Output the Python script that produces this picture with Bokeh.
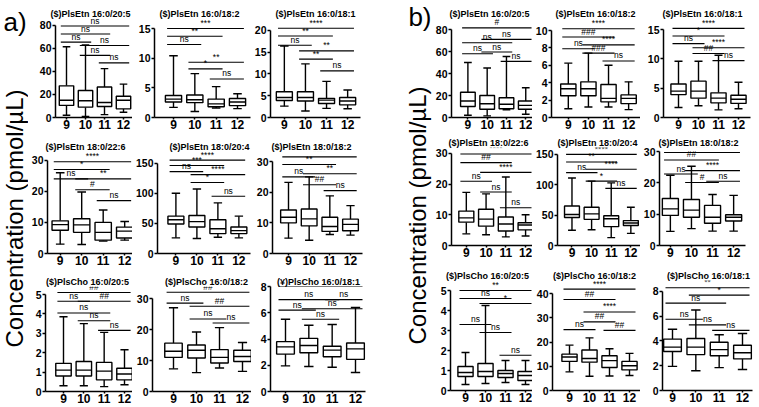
from math import pi

from bokeh.plotting import figure
from bokeh.layouts import row, column
from bokeh.models import Range1d, FixedTicker, Label, ColumnDataSource
from bokeh.core.properties import value
from bokeh.embed import file_html
from bokeh.resources import INLINE

FONT = "Liberation Sans"
GROUPS = [9, 10, 11, 12]
YLABEL = "Concentration (pmol/µL)"

# ---------------------------------------------------------------- panel a
a1_title = "($)PlsEtn 16:0/20:5"
a1_yticks = [0, 20, 40, 60, 80]
a1_lo = [2, 1, 2.5, 4.5]
a1_q1 = [10.5, 9, 9.5, 7.5]
a1_med = [15, 14.5, 13, 15]
a1_q3 = [27.5, 23.5, 26.5, 18.5]
a1_hi = [61.5, 63, 42.5, 29]
a1_pairs = [(9, 12), (9, 11), (9, 10), (10, 12), (10, 11), (11, 12)]
a1_pair_y = [79.5, 72.5, 65.5, 62.5, 54, 47.5]
a1_pair_txt = ["ns", "ns", "ns", "ns", "ns", "ns"]

a2_title = "($)PlsEtn 16:0/18:2"
a2_yticks = [0, 5, 10, 15]
a2_lo = [1.7, 1.0, 1.6, 1.5]
a2_q1 = [2.6, 2.5, 1.8, 2.0]
a2_med = [3.1, 3.0, 2.3, 2.6]
a2_q3 = [3.7, 3.8, 3.1, 3.2]
a2_hi = [10.4, 7.4, 5.2, 4.0]
a2_pairs = [(9, 12), (9, 11), (9, 10), (10, 12), (10, 11), (11, 12)]
a2_pair_y = [15.0, 13.7, 12.3, 9.3, 8.2, 6.5]
a2_pair_txt = ["***", "**", "ns", "**", "*", "ns"]

a3_title = "($)PlsEtn 16:0/18:1"
a3_yticks = [0, 5, 10, 15, 20]
a3_lo = [2.6, 1.5, 2.1, 2.0]
a3_q1 = [3.9, 3.8, 3.2, 2.9]
a3_med = [4.6, 4.6, 4.0, 3.8]
a3_q3 = [5.9, 5.9, 4.4, 4.6]
a3_hi = [16.4, 12.3, 8.3, 6.3]
a3_pairs = [(9, 12), (9, 11), (9, 10), (10, 12), (10, 11), (11, 12)]
a3_pair_y = [20.5, 18.7, 16.6, 15.3, 13.4, 10.7]
a3_pair_txt = ["****", "**", "ns", "**", "**", "ns"]

a4_title = "($)PlsEtn 18:0/22:6"
a4_yticks = [0, 10, 20, 30]
a4_lo = [3.0, 2.9, 4.0, 4.3]
a4_q1 = [7.5, 6.8, 4.3, 5.0]
a4_med = [9.3, 9.2, 6.8, 7.2]
a4_q3 = [10.5, 11.2, 10.0, 8.5]
a4_hi = [26.0, 19.8, 14.0, 10.3]
a4_pairs = [(9, 12), (9, 11), (9, 10), (10, 12), (10, 11), (11, 12)]
a4_pair_y = [29.5, 27.0, 24.0, 24.0, 20.5, 17.0]
a4_pair_txt = ["****", "*", "ns", "**", "#", "ns"]

a5_title = "($)PlsEtn 18:0/20:4"
a5_yticks = [0, 50, 100, 150]
a5_lo = [26, 25, 27, 26]
a5_q1 = [49, 44, 33, 33]
a5_med = [56, 53, 41, 38]
a5_q3 = [62, 63, 56, 44]
a5_hi = [100, 107, 84, 62]
a5_pairs = [(9, 12), (9, 11), (9, 10), (10, 12), (10, 11), (11, 12)]
a5_pair_y = [155, 146, 136, 131, 118, 95]
a5_pair_txt = ["****", "***", "ns", "****", "*", "ns"]

a6_title = "($)PlsEtn 18:0/18:2"
a6_yticks = [0, 10, 20, 30]
a6_lo = [5.0, 4.3, 6.2, 6.0]
a6_q1 = [10.0, 9.0, 7.2, 7.4]
a6_med = [11.8, 11.3, 8.8, 9.5]
a6_q3 = [14.2, 14.5, 11.8, 11.2]
a6_hi = [23.2, 25.0, 18.8, 15.6]
a6_pairs = [(9, 12), (9, 11), (10, 12), (9, 10), (10, 11), (11, 12)]
a6_pair_y = [31.5, 29.0, 26.0, 25.0, 22.4, 20.5]
a6_pair_txt = ["****", "**", "**", "ns", "##", "ns"]

a7_title = "($)PlsCho 16:0/20:5"
a7_yticks = [0, 1, 2, 3, 4, 5]
a7_lo = [0.3, 0.3, 0.25, 0.35]
a7_q1 = [0.8, 0.8, 0.6, 0.6]
a7_med = [1.1, 1.1, 1.05, 0.9]
a7_q3 = [1.45, 1.55, 1.5, 1.2]
a7_hi = [3.85, 3.5, 3.05, 2.15]
a7_pairs = [(9, 12), (9, 10), (10, 12), (9, 11), (10, 11), (11, 12)]
a7_pair_y = [5.1, 4.65, 4.65, 4.05, 3.65, 3.15]
a7_pair_txt = ["##", "ns", "##", "ns", "ns", "ns"]

a8_title = "($)PlsCho 16:0/18:2"
a8_yticks = [0, 10, 20, 30]
a8_lo = [7.3, 6.1, 7.6, 6.5]
a8_q1 = [11.0, 10.8, 9.2, 9.7]
a8_med = [13.0, 13.3, 11.0, 11.3]
a8_q3 = [15.6, 15.0, 13.5, 13.3]
a8_hi = [27.0, 19.2, 20.6, 15.8]
a8_pairs = [(9, 12), (9, 10), (10, 12), (10, 11), (11, 12)]
a8_pair_y = [32.0, 28.5, 27.5, 23.4, 22.1]
a8_pair_txt = ["##", "ns", "##", "ns", "ns"]

a9_title = "(¥)PlsCho 16:0/18:1"
a9_yticks = [0, 2, 4, 6, 8]
a9_lo = [1.95, 1.9, 1.85, 1.45]
a9_q1 = [2.85, 2.95, 2.65, 2.45]
a9_med = [3.4, 3.5, 3.15, 3.25]
a9_q3 = [3.8, 4.05, 3.45, 3.7]
a9_hi = [5.5, 5.05, 5.1, 6.4]
a9_pairs = [(9, 12), (9, 11), (11, 12), (9, 10), (10, 12), (10, 11)]
a9_pair_y = [8.0, 7.0, 7.0, 6.2, 6.3, 5.5]
a9_pair_txt = ["ns", "ns", "ns", "ns", "ns", "ns"]

# ---------------------------------------------------------------- panel b
b1_title = "($)PlsEtn 16:0/20:5"
b1_yticks = [0, 20, 40, 60, 80]
b1_lo = [2, 1.5, 7, 3]
b1_q1 = [10, 7.5, 8, 7.5]
b1_med = [15, 12.5, 12, 11]
b1_q3 = [23, 20, 18, 15]
b1_hi = [50, 45, 55.5, 27]
b1_pairs = [(9, 12), (10, 12), (9, 11), (9, 10), (10, 11), (11, 12)]
b1_pair_y = [81.5, 71, 68, 58, 59.5, 51]
b1_pair_txt = ["#", "ns", "ns", "ns", "ns", "ns"]

b2_title = "($)PlsEtn 16:0/18:2"
b2_yticks = [0, 2, 4, 6, 8, 10]
b2_lo = [1.0, 1.2, 1.2, 0.9]
b2_q1 = [2.5, 2.5, 1.8, 1.6]
b2_med = [3.3, 3.3, 2.2, 2.2]
b2_q3 = [3.85, 4.1, 3.8, 2.6]
b2_hi = [6.25, 7.4, 6.0, 4.1]
b2_pairs = [(9, 12), (9, 11), (10, 12), (9, 10), (10, 11), (11, 12)]
b2_pair_y = [10.2, 9.25, 8.35, 7.9, 7.4, 6.5]
b2_pair_txt = ["****", "###", "****", "ns", "###", "ns"]

b3_title = "($)PlsEtn 16:0/18:1"
b3_yticks = [0, 5, 10, 15]
b3_lo = [1.7, 2.0, 1.3, 1.5]
b3_q1 = [3.9, 3.3, 2.5, 2.4]
b3_med = [4.5, 4.5, 3.3, 3.1]
b3_q3 = [5.7, 6.2, 4.2, 3.8]
b3_hi = [9.6, 9.6, 10.6, 6.0]
b3_pairs = [(9, 12), (9, 11), (9, 10), (10, 12), (10, 11), (11, 12)]
b3_pair_y = [15.2, 13.9, 12.6, 11.9, 10.9, 9.7]
b3_pair_txt = ["****", "*", "ns", "****", "##", "ns"]

b4_title = "($)PlsEtn 18:0/22:6"
b4_yticks = [0, 10, 20, 30]
b4_lo = [3.8, 3.5, 2.8, 3.1]
b4_q1 = [7.6, 6.3, 4.7, 5.1]
b4_med = [9.0, 8.6, 7.0, 6.7]
b4_q3 = [11.2, 11.8, 9.3, 7.4]
b4_hi = [17.3, 16.8, 22.3, 10.0]
b4_pairs = [(9, 12), (9, 11), (10, 12), (9, 10), (10, 11), (11, 12)]
b4_pair_y = [29.8, 27.0, 23.8, 20.9, 17.4, 12.3]
b4_pair_txt = ["****", "##", "****", "ns", "ns", "ns"]

b5_title = "($)PlsEtn 18:0/20:4"
b5_yticks = [0, 50, 100, 150]
b5_lo = [25, 26, 13, 20]
b5_q1 = [46, 43, 31, 33]
b5_med = [51, 52, 44, 37]
b5_q3 = [65, 63, 49, 41]
b5_hi = [111, 106, 103, 63]
b5_pairs = [(9, 12), (9, 11), (10, 12), (9, 10), (10, 11), (11, 12)]
b5_pair_y = [150, 137.5, 125.5, 120, 106, 94]
b5_pair_txt = ["****", "**", "****", "ns", "*", "ns"]

b6_title = "($)PlsEtn 18:0/18:2"
b6_yticks = [0, 10, 20, 30]
b6_lo = [4.5, 5.4, 4.6, 4.6]
b6_q1 = [9.6, 9.0, 7.1, 7.8]
b6_med = [11.7, 11.3, 9.0, 9.0]
b6_q3 = [15.0, 14.7, 12.8, 9.8]
b6_hi = [22.4, 25.3, 16.3, 16.0]
b6_pairs = [(9, 12), (9, 11), (10, 12), (9, 10), (10, 11), (11, 12)]
b6_pair_y = [29.7, 27.3, 23.9, 22.8, 20.1, 20.5]
b6_pair_txt = ["****", "##", "****", "ns", "#", "ns"]

b7_title = "($)PlsCho 16:0/20:5"
b7_yticks = [0, 1, 2, 3, 4, 5]
b7_lo = [0.3, 0.35, 0.4, 0.3]
b7_q1 = [0.7, 0.7, 0.65, 0.5]
b7_med = [0.9, 0.95, 0.85, 0.75]
b7_q3 = [1.2, 1.35, 1.0, 0.95]
b7_hi = [1.9, 4.25, 1.5, 1.5]
b7_pairs = [(9, 12), (9, 11), (10, 12), (9, 10), (10, 11), (11, 12)]
b7_pair_y = [5.0, 4.6, 4.35, 3.3, 2.9, 1.76]
b7_pair_txt = ["**", "ns", "*", "ns", "ns", "ns"]

b8_title = "($)PlsCho 16:0/18:2"
b8_yticks = [0, 10, 20, 30, 40]
b8_lo = [7.7, 5.9, 6.0, 6.2]
b8_q1 = [12.0, 11.7, 9.5, 8.5]
b8_med = [13.8, 13.2, 12.3, 10.2]
b8_q3 = [15.0, 16.7, 14.3, 12.0]
b8_hi = [18.7, 21.7, 17.2, 15.3]
b8_pairs = [(9, 12), (9, 11), (10, 12), (10, 11), (9, 10), (11, 12)]
b8_pair_y = [41.8, 37.5, 32.4, 28.3, 25.1, 24.8]
b8_pair_txt = ["****", "##", "****", "##", "ns", "##"]

b9_title = "($)PlsCho 16:0/18:1"
b9_yticks = [0, 2, 4, 6, 8]
b9_lo = [1.95, 1.6, 1.85, 1.7]
b9_q1 = [3.15, 2.9, 2.8, 2.55]
b9_med = [3.5, 3.5, 3.3, 3.05]
b9_q3 = [4.15, 4.2, 3.9, 3.65]
b9_hi = [4.95, 6.5, 4.5, 4.6]
b9_pairs = [(9, 12), (10, 12), (9, 11), (9, 10), (10, 11), (11, 12)]
b9_pair_y = [8.3, 7.7, 7.05, 5.75, 5.3, 4.85]
b9_pair_txt = ["**", "*", "ns", "ns", "ns", "ns"]

# ---------------------------------------------------------------- layout
# figure boxes in page pixels: (left, right) per column, (top, bottom, frame top) per row
COLS_A = [(28, 132), (132, 251), (251, 370)]
ROWS_A = [(0, 137, 18), (137, 272, 151), (272, 407, 286)]
COLS_B = [(432, 532), (532, 640), (640, 759)]
ROWS_B = [(0, 133, 18), (133, 266, 147), (266, 407, 280)]

# per plot: y-axis x, centre of group 9, centre of group 12, x-axis end,
# baseline y, y of top tick, title centre x  (page pixels)
GEOM = {
    "a1": dict(ax=55, x9=66, x12=123, fr=132, y0=118, ytop=25, tcx=90),
    "a2": dict(ax=154, x9=173, x12=237, fr=250, y0=117, ytop=28, tcx=199),
    "a3": dict(ax=269, x9=283, x12=347, fr=360, y0=118, ytop=30, tcx=314),
    "a4": dict(ax=45, x9=58, x12=124, fr=132, y0=256, ytop=160, tcx=83),
    "a5": dict(ax=154, x9=173, x12=238, fr=250, y0=256, ytop=163, tcx=206),
    "a6": dict(ax=272, x9=288, x12=350, fr=362, y0=253, ytop=161, tcx=311),
    "a7": dict(ax=45, x9=63, x12=124, fr=132, y0=391, ytop=294, tcx=87),
    "a8": dict(ax=152, x9=173, x12=242, fr=251, y0=391, ytop=298, tcx=206),
    "a9": dict(ax=270, x9=285, x12=355, fr=365, y0=391, ytop=286, tcx=318),
    "b1": dict(ax=448, x9=465, x12=525, fr=532, y0=117, ytop=29, tcx=486),
    "b2": dict(ax=550, x9=567, x12=628, fr=640, y0=117, ytop=30, tcx=594),
    "b3": dict(ax=663, x9=678, x12=738, fr=750, y0=117, ytop=29, tcx=702),
    "b4": dict(ax=450, x9=465, x12=525, fr=532, y0=247, ytop=153, tcx=487),
    "b5": dict(ax=554, x9=569, x12=630, fr=640, y0=247, ytop=154, tcx=594),
    "b6": dict(ax=658, x9=669, x12=733, fr=745, y0=245, ytop=151, tcx=697),
    "b7": dict(ax=450, x9=465, x12=525, fr=532, y0=390, ytop=290, tcx=487),
    "b8": dict(ax=552, x9=569, x12=629, fr=640, y0=390, ytop=293, tcx=594),
    "b9": dict(ax=662, x9=672, x12=742, fr=752, y0=391, ytop=291, tcx=708),
}

BOX_W = 0.76
CAP_W = 0.4
BRACKET_EXT = 0.3
LW = 1.4
TITLE_PX = 9

# advance widths (1/1000 em) of the bold sans face, used to centre the titles
BOLD_W = {" ": 278, "(": 333, ")": 333, "$": 556, "¥": 556, "P": 667, "l": 278, "s": 556,
          "E": 667, "t": 333, "n": 611, "C": 722, "h": 611, "o": 611, ":": 333, "/": 278}


def text_width(txt, size):
    return sum(BOLD_W.get(ch, 556) for ch in txt) * size / 1000.0


def box_plot(key, box):
    g = GEOM[key]
    panel, idx = key[0], int(key[1]) - 1
    cols, rows = (COLS_A, ROWS_A) if panel == "a" else (COLS_B, ROWS_B)
    left, right = cols[idx % 3]
    top, bottom, ftop = rows[idx // 3]

    sx = (g["x12"] - g["x9"]) / 3.0
    x_start = 9 - (g["x9"] - g["ax"]) / sx
    x_end = 12 + (g["fr"] - g["x12"]) / sx
    yticks = box["yticks"]
    sy = (g["y0"] - g["ytop"]) / yticks[-1]
    y_end = (g["y0"] - ftop) / sy

    p = figure(width=right - left, height=bottom - top, title=box["title"],
               x_range=Range1d(x_start, x_end), y_range=Range1d(0, y_end),
               min_border_left=g["ax"] - left, min_border_right=right - g["fr"],
               min_border_top=ftop - top, min_border_bottom=bottom - g["y0"],
               toolbar_location=None, output_backend="svg")
    p.title.text_font = FONT
    p.title.text_font_size = f"{TITLE_PX}px"
    p.title.text_font_style = "bold"
    p.title.text_color = "black"
    p.title.align = "left"
    p.title.vertical_align = "bottom"
    p.title.standoff = 0
    p.title.offset = g["tcx"] - text_width(box["title"], TITLE_PX) / 2 - g["ax"]
    p.grid.visible = False
    p.outline_line_color = None

    p.xaxis.ticker = FixedTicker(ticks=GROUPS)
    p.yaxis.ticker = FixedTicker(ticks=yticks)
    p.yaxis.bounds = (0, yticks[-1])
    for ax in p.axis:
        ax.axis_line_width = 1.5
        ax.axis_line_color = "black"
        ax.major_tick_line_width = 1.5
        ax.major_tick_line_color = "black"
        ax.major_tick_in = 0
        ax.minor_tick_line_color = None
        ax.major_label_text_font = FONT
        ax.major_label_text_font_style = "bold"
        ax.major_label_text_color = "black"
    p.xaxis.major_tick_out = 2
    p.xaxis.major_label_standoff = 0
    p.xaxis.major_label_text_font_size = "12px"
    p.yaxis.major_tick_out = 3
    p.yaxis.major_label_standoff = 1
    p.yaxis.major_label_text_font_size = "10.5px"

    src = ColumnDataSource(dict(
        x=GROUPS, lo=box["lo"], q1=box["q1"], med=box["med"], q3=box["q3"], hi=box["hi"],
        bl=[x - BOX_W / 2 for x in GROUPS], br=[x + BOX_W / 2 for x in GROUPS],
        cl=[x - CAP_W / 2 for x in GROUPS], cr=[x + CAP_W / 2 for x in GROUPS],
    ))
    seg = dict(source=src, line_color="black", line_width=LW)
    p.segment(x0="x", y0="q3", x1="x", y1="hi", **seg)
    p.segment(x0="x", y0="lo", x1="x", y1="q1", **seg)
    p.segment(x0="cl", y0="hi", x1="cr", y1="hi", **seg)
    p.segment(x0="cl", y0="lo", x1="cr", y1="lo", **seg)
    p.quad(left="bl", right="br", bottom="q1", top="q3", source=src,
           fill_color="white", line_color="black", line_width=LW)
    p.segment(x0="bl", y0="med", x1="br", y1="med", **seg)

    pairs = box["pairs"]
    bsrc = ColumnDataSource(dict(
        x0=[a - BRACKET_EXT for a, b in pairs], x1=[b + BRACKET_EXT for a, b in pairs],
        xm=[(a + b) / 2 for a, b in pairs], y=box["pair_y"], t=box["pair_txt"],
    ))
    p.segment(x0="x0", y0="y", x1="x1", y1="y", source=bsrc, line_color="black", line_width=1.1)
    p.text(x="xm", y="y", text="t", source=bsrc, text_align="center", text_baseline="bottom",
           y_offset=-0.5, text_font=value(FONT), text_font_size="8.5px", text_color="black")
    return p


def strip(width, height, label_x, label_y, tag, tag_x, tag_y, tag_align):
    p = figure(width=width, height=height, x_range=Range1d(0, width), y_range=Range1d(height, 0),
               x_axis_type=None, y_axis_type=None, min_border=0,
               toolbar_location=None, output_backend="svg")
    p.grid.visible = False
    p.outline_line_color = None
    p.add_layout(Label(x=label_x, y=label_y, text=YLABEL, angle=pi / 2,
                       text_align="center", text_baseline="middle",
                       text_font=FONT, text_font_size="24px", text_color="black"))
    p.add_layout(Label(x=tag_x, y=tag_y, text=tag, text_align=tag_align, text_baseline="middle",
                       text_font=FONT, text_font_size="26px", text_color="black"))
    return p


ns = globals()
plots = {}
for key in GEOM:
    box = {f: ns[f"{key}_{f}"] for f in
           ("title", "yticks", "lo", "q1", "med", "q3", "hi", "pairs", "pair_y", "pair_txt")}
    plots[key] = box_plot(key, box)

grid_a = column(*[row(*[plots[f"a{r * 3 + c + 1}"] for c in range(3)]) for r in range(3)])
grid_b = column(*[row(*[plots[f"b{r * 3 + c + 1}"] for c in range(3)]) for r in range(3)])
strip_a = strip(28, 407, 14, 218, "a)", 3, 21, "left")
strip_b = strip(62, 407, 47, 215, "b)", 61, 16, "right")

page = row(strip_a, grid_a, strip_b, grid_b)
open("out.html", "w").write(file_html(page, INLINE))
